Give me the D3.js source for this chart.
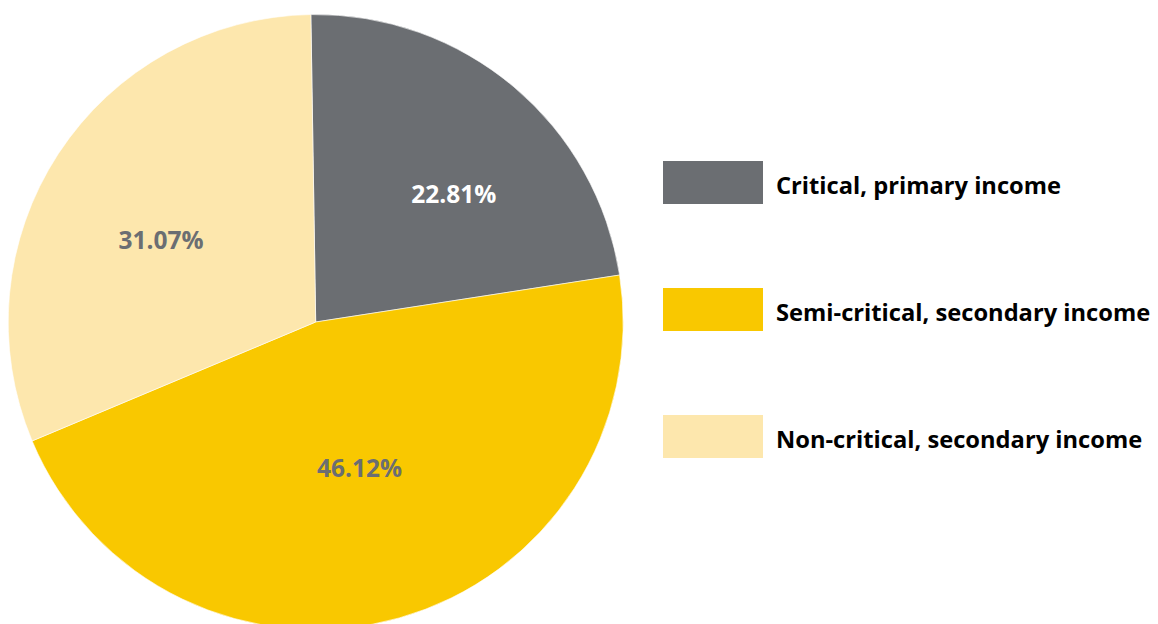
<!DOCTYPE html>
<html>
<head>
<meta charset="utf-8">
<script src="https://cdn.jsdelivr.net/npm/d3@7"></script>
<style>
  html, body { margin: 0; padding: 0; background: #ffffff; }
  svg { display: block; }
</style>
</head>
<body>
<svg id="chart" width="1158" height="624"></svg>
<script>
// Income categories and their shares (%)
const categories = ["Critical, primary income", "Semi-critical, secondary income", "Non-critical, secondary income"];
const shares = [22.81, 46.12, 31.07];
const valueLabels = ["22.81%", "46.12%", "31.07%"];

const colors = ["#6b6e72", "#f9c800", "#fde7ad"];
const labelColors = ["#ffffff", "#6b6e72", "#6b6e72"];
// Nudges applied to each slice label relative to its centroid
const labelNudge = [[39, -11], [2, -2], [-26, 2]];

const svg = d3.select("#chart");
const cx = 315.7, cy = 322, radius = 307.5;
const font = "'Open Sans', 'Noto Sans', sans-serif";

const pie = d3.pie()
  .sort(null)
  .value(d => d)
  .startAngle(-0.9 * Math.PI / 180)
  .endAngle(2 * Math.PI - 0.9 * Math.PI / 180);

const arcs = pie(shares);
const arc = d3.arc().innerRadius(0).outerRadius(radius);

const g = svg.append("g").attr("transform", `translate(${cx},${cy})`);

g.selectAll("path.slice")
  .data(arcs)
  .join("path")
  .attr("class", "slice")
  .attr("d", arc)
  .attr("fill", (d, i) => colors[i])
  .attr("stroke", "#ffffff")
  .attr("stroke-width", 0.6);

g.selectAll("text.value")
  .data(arcs)
  .join("text")
  .attr("class", "value")
  .attr("transform", (d, i) => {
    const [x, y] = arc.centroid(d);
    return `translate(${x + labelNudge[i][0]},${y + labelNudge[i][1]})`;
  })
  .attr("text-anchor", "middle")
  .attr("dominant-baseline", "central")
  .attr("font-family", font)
  .attr("font-weight", 700)
  .attr("font-size", 24.5)
  .attr("fill", (d, i) => labelColors[i])
  .text((d, i) => valueLabels[i]);

// Legend
const legend = svg.append("g").attr("transform", "translate(663,161)");
const rowGap = 127;

const rows = legend.selectAll("g.row")
  .data(categories)
  .join("g")
  .attr("class", "row")
  .attr("transform", (d, i) => `translate(0,${i * rowGap})`);

rows.append("rect")
  .attr("width", 100)
  .attr("height", 43)
  .attr("fill", (d, i) => colors[i]);

rows.append("text")
  .attr("x", 113)
  .attr("y", 24)
  .attr("dominant-baseline", "central")
  .attr("font-family", font)
  .attr("font-weight", 700)
  .attr("font-size", 23.7)
  .attr("fill", "#000000")
  .text(d => d);
</script>
</body>
</html>
